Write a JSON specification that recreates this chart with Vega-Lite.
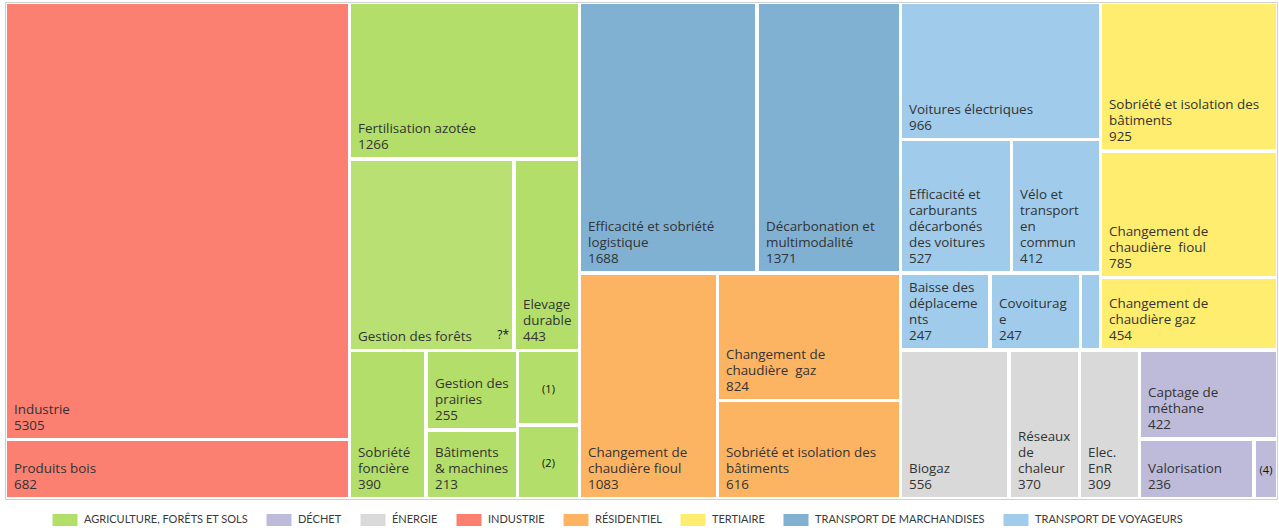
{
  "$schema": "https://vega.github.io/schema/vega-lite/v6.json",
  "width": 1272,
  "height": 497,
  "autosize": {"type": "none"},
  "padding": {"left": 5, "top": 2, "right": 2, "bottom": 29},
  "background": "white",
  "config": {"view": {"stroke": "#d0d0d0", "strokeWidth": 1}},
  "data": {
    "values": [
      {"secteur": "INDUSTRIE", "nom": "Industrie", "valeur": 5305, "x0": 2, "x1": 343, "y0": 2, "y1": 436},
      {"secteur": "INDUSTRIE", "nom": "Produits bois", "valeur": 682, "x0": 2, "x1": 343, "y0": 439, "y1": 495},
      {"secteur": "AGRICULTURE, FORÊTS ET SOLS", "nom": "Fertilisation azotée", "valeur": 1266, "x0": 346, "x1": 573, "y0": 2, "y1": 155},
      {"secteur": "AGRICULTURE, FORÊTS ET SOLS", "nom": "Gestion des forêts", "valeur": null, "marque": "?*", "x0": 346, "x1": 507, "y0": 159, "y1": 347},
      {"secteur": "AGRICULTURE, FORÊTS ET SOLS", "nom": "Elevage\ndurable", "valeur": 443, "x0": 511, "x1": 573, "y0": 159, "y1": 347},
      {"secteur": "AGRICULTURE, FORÊTS ET SOLS", "nom": "Sobriété\nfoncière", "valeur": 390, "x0": 346, "x1": 419, "y0": 350, "y1": 495},
      {"secteur": "AGRICULTURE, FORÊTS ET SOLS", "nom": "Gestion des\nprairies", "valeur": 255, "x0": 423, "x1": 511, "y0": 350, "y1": 426},
      {"secteur": "AGRICULTURE, FORÊTS ET SOLS", "nom": "Bâtiments\n& machines", "valeur": 213, "x0": 423, "x1": 511, "y0": 430, "y1": 495},
      {"secteur": "AGRICULTURE, FORÊTS ET SOLS", "nom": "", "valeur": null, "note": "(1)", "x0": 514, "x1": 573, "y0": 350, "y1": 421},
      {"secteur": "AGRICULTURE, FORÊTS ET SOLS", "nom": "", "valeur": null, "note": "(2)", "x0": 514, "x1": 573, "y0": 425, "y1": 495},
      {"secteur": "TRANSPORT DE MARCHANDISES", "nom": "Efficacité et sobriété\nlogistique", "valeur": 1688, "x0": 576, "x1": 750, "y0": 2, "y1": 269},
      {"secteur": "TRANSPORT DE MARCHANDISES", "nom": "Décarbonation et\nmultimodalité", "valeur": 1371, "x0": 754, "x1": 894, "y0": 2, "y1": 269},
      {"secteur": "RÉSIDENTIEL", "nom": "Changement de\nchaudière fioul", "valeur": 1083, "x0": 576, "x1": 711, "y0": 273, "y1": 495},
      {"secteur": "RÉSIDENTIEL", "nom": "Changement de\nchaudière\u00a0 gaz", "valeur": 824, "x0": 714, "x1": 894, "y0": 273, "y1": 397},
      {"secteur": "RÉSIDENTIEL", "nom": "Sobriété et isolation des\nbâtiments", "valeur": 616, "x0": 714, "x1": 894, "y0": 400, "y1": 495},
      {"secteur": "TRANSPORT DE VOYAGEURS", "nom": "Voitures électriques", "valeur": 966, "x0": 897, "x1": 1094, "y0": 2, "y1": 136},
      {"secteur": "TRANSPORT DE VOYAGEURS", "nom": "Efficacité et\ncarburants\ndécarbonés\ndes voitures", "valeur": 527, "x0": 897, "x1": 1005, "y0": 139, "y1": 269},
      {"secteur": "TRANSPORT DE VOYAGEURS", "nom": "Vélo et\ntransport\nen\ncommun", "valeur": 412, "x0": 1008, "x1": 1094, "y0": 139, "y1": 269},
      {"secteur": "TRANSPORT DE VOYAGEURS", "nom": "Baisse des\ndéplaceme\nnts", "valeur": 247, "x0": 897, "x1": 983, "y0": 273, "y1": 346},
      {"secteur": "TRANSPORT DE VOYAGEURS", "nom": "Covoiturag\ne", "valeur": 247, "x0": 987, "x1": 1074, "y0": 273, "y1": 346},
      {"secteur": "TRANSPORT DE VOYAGEURS", "nom": "", "valeur": null, "x0": 1077, "x1": 1094, "y0": 273, "y1": 346},
      {"secteur": "TERTIAIRE", "nom": "Sobriété et isolation des\nbâtiments", "valeur": 925, "x0": 1097, "x1": 1271, "y0": 2, "y1": 147},
      {"secteur": "TERTIAIRE", "nom": "Changement de\nchaudière\u00a0 fioul", "valeur": 785, "x0": 1097, "x1": 1271, "y0": 151, "y1": 274},
      {"secteur": "TERTIAIRE", "nom": "Changement de\nchaudière gaz", "valeur": 454, "x0": 1097, "x1": 1271, "y0": 277, "y1": 346},
      {"secteur": "ÉNERGIE", "nom": "Biogaz", "valeur": 556, "x0": 897, "x1": 1002, "y0": 350, "y1": 495},
      {"secteur": "ÉNERGIE", "nom": "Réseaux\nde\nchaleur", "valeur": 370, "x0": 1006, "x1": 1073, "y0": 350, "y1": 495},
      {"secteur": "ÉNERGIE", "nom": "Elec.\nEnR", "valeur": 309, "x0": 1076, "x1": 1133, "y0": 350, "y1": 495},
      {"secteur": "DÉCHET", "nom": "Captage de\nméthane", "valeur": 422, "x0": 1136, "x1": 1271, "y0": 350, "y1": 435},
      {"secteur": "DÉCHET", "nom": "Valorisation", "valeur": 236, "x0": 1136, "x1": 1247, "y0": 439, "y1": 495},
      {"secteur": "DÉCHET", "nom": "", "valeur": null, "note": "(4)", "x0": 1251, "x1": 1271, "y0": 439, "y1": 495}
    ]
  },
  "layer": [
    {
      "mark": {"type": "rect", "strokeWidth": 0},
      "encoding": {
        "x": {"field": "x0", "type": "quantitative", "scale": {"domain": [0, 1272], "nice": false, "zero": false}, "axis": null},
        "x2": {"field": "x1"},
        "y": {"field": "y0", "type": "quantitative", "scale": {"domain": [0, 497], "nice": false, "zero": false, "reverse": true}, "axis": null},
        "y2": {"field": "y1"},
        "color": {
          "field": "secteur",
          "type": "nominal",
          "scale": {
            "domain": ["AGRICULTURE, FORÊTS ET SOLS", "DÉCHET", "ÉNERGIE", "INDUSTRIE", "RÉSIDENTIEL", "TERTIAIRE", "TRANSPORT DE MARCHANDISES", "TRANSPORT DE VOYAGEURS"],
            "range": ["#b3de69", "#bebada", "#d9d9d9", "#fb8072", "#fdb462", "#ffed6f", "#80b1d3", "#a0cbeb"]
          },
          "legend": {
            "orient": "none",
            "legendX": 47,
            "legendY": 505,
            "direction": "horizontal",
            "columns": 8,
            "title": null,
            "padding": 0,
            "symbolType": "M-1,-0.48H1V0.48H-1Z",
            "symbolSize": 625,
            "symbolStrokeColor": "#8a8a8a",
            "symbolStrokeWidth": 1,
            "symbolOpacity": 1,
            "labelFont": "Lato",
            "labelFontSize": 11,
            "labelColor": "#3a3a3a",
            "labelOffset": 6,
            "labelLimit": 400,
            "columnPadding": 16,
            "encode": {
              "symbols": {
                "update": {
                  "fill": {"signal": "datum.value === 'TRANSPORT DE VOYAGEURS' ? '#c6dbef' : scale('color', datum.value)"}
                }
              }
            }
          }
        }
      }
    },
    {
      "transform": [{"filter": "datum.nom === 'Gestion des forêts'"}],
      "mark": {"type": "rect", "fill": "white", "opacity": 0.07},
      "encoding": {
        "x": {"field": "x0", "type": "quantitative", "axis": null},
        "x2": {"field": "x1"},
        "y": {"field": "y0", "type": "quantitative", "axis": null},
        "y2": {"field": "y1"}
      }
    },
    {
      "transform": [{"filter": "datum.nom !== ''"}],
      "mark": {
        "type": "text",
        "align": "left",
        "baseline": "alphabetic",
        "font": "Open Sans",
        "fontSize": 13.4,
        "color": "#333333",
        "lineHeight": -16.1,
        "dx": 7,
        "dy": -8,
        "text": {"expr": "reverse(split(isValid(datum.valeur) ? datum.nom + '\\n' + datum.valeur : datum.nom, '\\n'))"}
      },
      "encoding": {
        "x": {"field": "x0", "type": "quantitative", "axis": null},
        "y": {"field": "y1", "type": "quantitative", "axis": null}
      }
    },
    {
      "transform": [{"filter": "datum.marque != null"}],
      "mark": {"type": "text", "align": "right", "baseline": "alphabetic", "font": "Open Sans", "fontSize": 12, "color": "#111111", "dx": -3, "dy": -10},
      "encoding": {
        "x": {"field": "x1", "type": "quantitative", "axis": null},
        "y": {"field": "y1", "type": "quantitative", "axis": null},
        "text": {"field": "marque", "type": "nominal"}
      }
    },
    {
      "transform": [
        {"filter": "datum.note != null"},
        {"fold": ["x0", "x1"], "as": ["bordx", "xb"]},
        {"fold": ["y0", "y1"], "as": ["bordy", "yb"]}
      ],
      "mark": {"type": "text", "align": "center", "baseline": "middle", "font": "Open Sans", "fontSize": 11, "color": "#111111", "dy": 2},
      "encoding": {
        "x": {"aggregate": "mean", "field": "xb", "type": "quantitative", "axis": null},
        "y": {"aggregate": "mean", "field": "yb", "type": "quantitative", "axis": null},
        "text": {"field": "note", "type": "nominal"}
      }
    }
  ]
}
